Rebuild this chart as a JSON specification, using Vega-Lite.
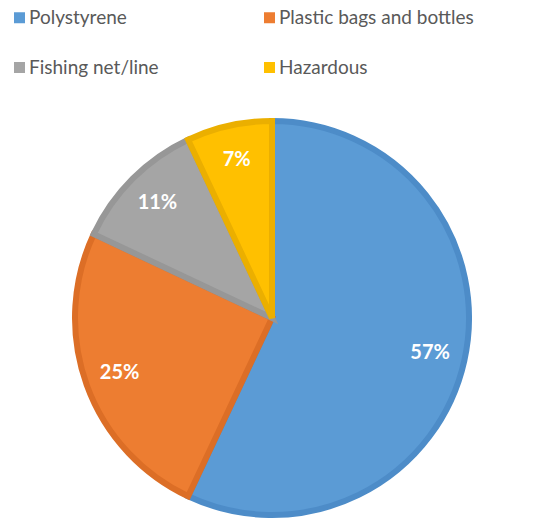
{
  "$schema": "https://vega.github.io/schema/vega-lite/v6.json",
  "width": 400,
  "height": 400,
  "autosize": "none",
  "padding": {"left": 72, "top": 118, "right": 84, "bottom": 2},
  "background": "white",
  "config": {"view": {"stroke": null}, "font": "Lato"},
  "data": {"values": [
    {"category": "Polystyrene", "value": 57, "order": 1, "label": "57%"},
    {"category": "Plastic bags and bottles", "value": 25, "order": 2, "label": "25%"},
    {"category": "Fishing net/line", "value": 11, "order": 3, "label": "11%"},
    {"category": "Hazardous", "value": 7, "order": 4, "label": "7%"}
  ]},
  "encoding": {
    "theta": {"field": "value", "type": "quantitative", "stack": true},
    "order": {"field": "order", "type": "quantitative", "sort": "ascending"}
  },
  "layer": [
    {
      "mark": {"type": "arc", "outerRadius": 197, "strokeWidth": 6, "strokeJoin": "miter"},
      "encoding": {
        "color": {
          "field": "category", "type": "nominal",
          "scale": {"domain": ["Polystyrene", "Plastic bags and bottles", "Fishing net/line", "Hazardous"],
                    "range": ["#5B9BD5", "#ED7D31", "#A5A5A5", "#FFC000"]},
          "legend": {
            "title": null, "orient": "none", "legendX": -62, "legendY": -110,
            "direction": "horizontal", "columns": 2, "gridAlign": "each",
            "columnPadding": 101, "rowPadding": 30,
            "symbolType": "square", "symbolSize": 121, "symbolStrokeWidth": 0,
            "labelFont": "Lato", "labelFontSize": 19, "labelColor": "#595959",
            "labelOffset": 0, "labelLimit": 400
          }
        },
        "stroke": {
          "field": "category", "type": "nominal",
          "scale": {"domain": ["Polystyrene", "Plastic bags and bottles", "Fishing net/line", "Hazardous"],
                    "range": ["#4D8CC8", "#DC6E26", "#979797", "#EBAF00"]},
          "legend": null
        }
      }
    },
    {
      "mark": {"type": "text", "radius": 162, "font": "Lato", "fontSize": 20, "fontWeight": "bold", "fill": "white"},
      "encoding": {"text": {"field": "label", "type": "nominal"}}
    }
  ]
}
